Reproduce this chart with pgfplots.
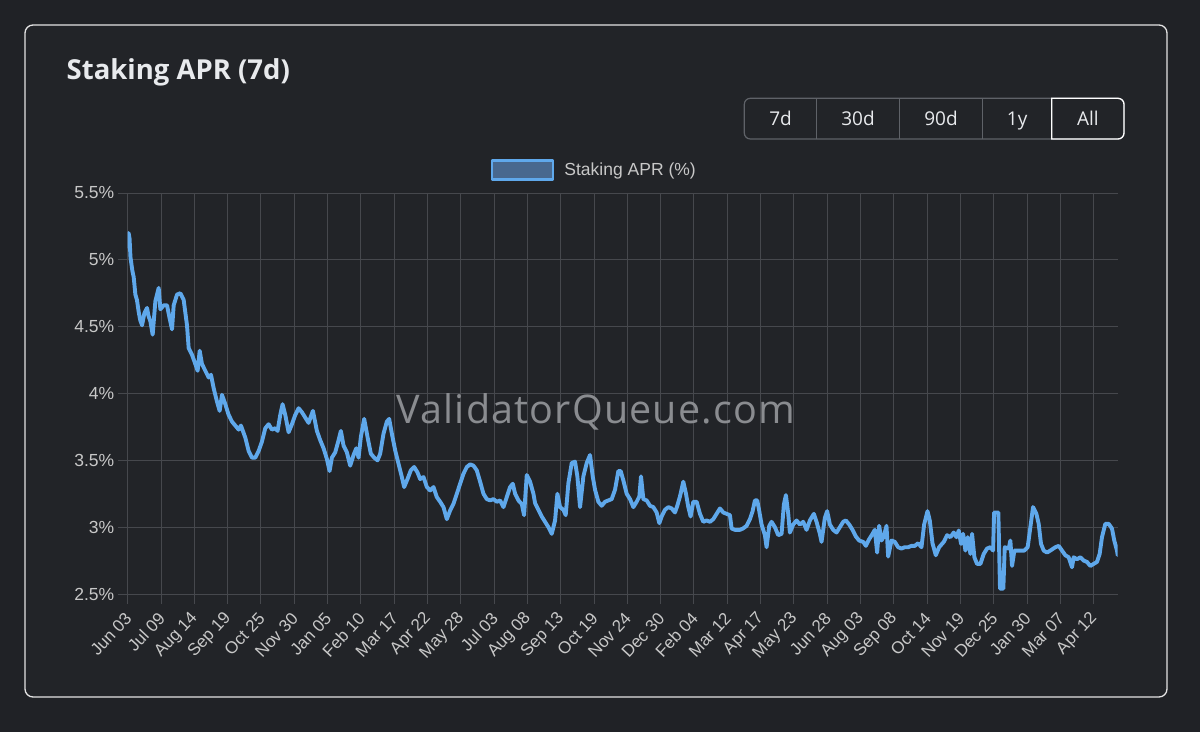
\documentclass[border=0pt]{standalone}
\usepackage{pgfplots}
\usepackage{pgfplotstable}
\pgfplotsset{compat=1.18}
\usepackage{fontspec}
\setmainfont{Liberation Sans}
\newfontfamily\titlefont{Open Sans}
\newfontfamily\wmfont[LetterSpace=3]{Open Sans}
\definecolor{outerbg}{RGB}{32,34,38}
\definecolor{cardbg}{RGB}{34,36,40}
\definecolor{cardborder}{RGB}{228,228,228}
\definecolor{gridc}{RGB}{70,72,77}
\definecolor{tickc}{RGB}{200,200,200}
\definecolor{lineblue}{RGB}{95,168,235}
\definecolor{legfill}{RGB}{72,104,142}
\definecolor{btnborder}{RGB}{95,98,104}
\definecolor{titlec}{RGB}{232,234,237}
\definecolor{wmc}{RGB}{138,140,144}

\pgfplotstableread{
day apr
0 5.10
1 5.20
2 5.16
3 5.02
5 4.92
6.5 4.87
8.3 4.74
10 4.70
11.9 4.61
13.5 4.55
15.5 4.51
18 4.60
20.9 4.64
22.5 4.58
24.5 4.54
27 4.44
29.9 4.69
33.5 4.79
35.3 4.63
38.9 4.66
42.5 4.66
45.4 4.56
47.9 4.48
49.7 4.66
53.3 4.74
56.9 4.75
60.5 4.70
64.1 4.51
65.9 4.34
69.5 4.29
73.1 4.22
75.6 4.17
77.8 4.32
80.3 4.22
83.9 4.17
87.5 4.12
90 4.14
92.9 4.04
96.5 3.94
99.4 3.87
101.9 3.99
105.5 3.92
109.1 3.84
112.7 3.79
116.3 3.76
119.9 3.73
122.4 3.76
127.1 3.67
130.7 3.57
134.3 3.52
137.9 3.52
141.5 3.57
145.1 3.64
148.7 3.74
152.3 3.77
155.9 3.73
159.5 3.74
162 3.72
164.9 3.84
167.4 3.92
170.3 3.84
173.9 3.71
177.5 3.77
181.1 3.84
184.7 3.89
188.3 3.86
191.9 3.82
195.5 3.78
200.2 3.87
204.5 3.72
208.1 3.65
211.7 3.59
215.3 3.51
218.2 3.42
220.7 3.52
224.3 3.56
227.9 3.65
230.4 3.72
233.3 3.61
236.9 3.56
240.5 3.46
244.1 3.54
247 3.59
249.5 3.52
252 3.675
255.6 3.81
259.2 3.675
262.8 3.55
266.4 3.52
270 3.50
272.9 3.55
276.5 3.70
280.1 3.79
282.6 3.81
285.5 3.70
289.1 3.575
292.7 3.475
296.3 3.375
298.8 3.30
302.4 3.36
306 3.425
309.6 3.45
313.2 3.41
316.1 3.36
319.7 3.375
323.3 3.30
326.9 3.275
330.5 3.30
334.1 3.225
337.7 3.19
341.3 3.15
344.9 3.06
348.5 3.125
352.1 3.175
355.7 3.25
359.3 3.325
362.9 3.40
366.5 3.45
370.1 3.47
373.7 3.46
377.3 3.425
380.9 3.34
384.5 3.25
388.1 3.21
391.7 3.20
395.3 3.21
398.9 3.19
402.5 3.20
406.1 3.15
409.7 3.225
413.3 3.30
416.2 3.325
418.7 3.25
422.3 3.20
425.9 3.175
428.4 3.09
431.3 3.39
434.9 3.34
438.5 3.25
440.3 3.18
443.9 3.13
447.5 3.08
451.1 3.04
454.7 3.00
458.3 2.95
461.9 3.05
464.4 3.25
467.3 3.15
470.9 3.13
473.4 3.09
476.3 3.33
479.9 3.48
483.5 3.49
486 3.38
488.9 3.15
492.5 3.38
496.1 3.48
499.7 3.54
502.6 3.38
505.1 3.28
508.7 3.19
512.3 3.16
515.9 3.19
519.5 3.20
523.1 3.21
526.7 3.28
530.3 3.42
532.8 3.42
535.7 3.35
539.3 3.25
542.9 3.21
546.5 3.15
550.1 3.19
553 3.23
554.8 3.38
557.3 3.21
560.9 3.20
564.5 3.16
568.1 3.15
571.7 3.11
574.6 3.03
577.1 3.08
580.7 3.13
584.3 3.15
587.9 3.14
591.5 3.11
594 3.16
596.9 3.23
600.5 3.34
603.4 3.25
605.9 3.15
608.4 3.08
611.3 3.19
614.9 3.19
618.5 3.10
622.1 3.04
625.7 3.05
629.3 3.04
632.9 3.06
636.5 3.10
640.1 3.14
643.7 3.11
647.3 3.10
650.9 3.09
652.7 2.99
656.3 2.98
661.7 2.98
665 2.99
668.9 3.01
672.5 3.06
675.4 3.12
677.9 3.20
680.4 3.20
682.6 3.12
685.1 3.02
688.7 2.94
690.5 2.85
693.4 3.01
695.9 3.04
699.5 3.00
703.1 2.94
706.7 2.95
709.2 3.17
711.4 3.24
713.9 3.10
715.7 2.96
719.3 3.02
722.9 3.05
726.5 3.02
730.1 3.04
733.7 2.98
737.3 3.05
741.6 3.10
744.5 3.04
748.1 2.95
749.9 2.89
753.5 3.07
756 3.12
758.9 3.02
762.5 2.98
766.1 2.96
769.7 3.00
773.3 3.04
776.2 3.05
779.8 3.02
783.4 2.98
787 2.93
790.6 2.90
794.9 2.89
797.8 2.86
801.4 2.91
805 2.95
807.5 2.98
810 2.81
812.2 3.01
814.7 2.90
817.2 2.93
820.1 3.01
821.9 2.78
825.5 2.90
829.1 2.89
832.7 2.85
836.3 2.84
839.9 2.85
843.5 2.85
847.1 2.86
850.7 2.86
854.3 2.88
857.9 2.85
860.8 3.02
864.4 3.12
866.9 3.05
869.8 2.88
873.4 2.79
877 2.85
882 2.89
885.6 2.94
889.2 2.925
892.8 2.96
895.7 2.925
898.2 2.975
900.7 2.875
902.9 2.95
905.4 2.825
907.9 2.925
910.8 2.80
912.6 2.95
915.1 2.775
918 2.725
921.6 2.725
925.2 2.80
928.8 2.84
932.4 2.85
935.3 2.825
936.4 3.11
941 3.11
941.8 2.85
942.8 2.54
946.4 2.54
947.9 2.85
952.2 2.84
954 2.90
955.8 2.71
958.3 2.825
961.9 2.825
965.5 2.825
969.1 2.825
972.7 2.85
975.6 3.00
978.5 3.15
982.1 3.10
984.6 3.025
987.1 2.875
990 2.825
993.6 2.81
997.2 2.825
1002.6 2.85
1006.2 2.86
1009.8 2.825
1013.4 2.79
1017 2.775
1020.6 2.70
1022.4 2.775
1026 2.76
1029.6 2.775
1033.2 2.75
1036.8 2.74
1040.4 2.71
1044 2.725
1047.6 2.74
1050.5 2.80
1053 2.925
1056.6 3.025
1060.2 3.025
1063.8 2.99
1066.3 2.90
1069.2 2.825
1070 2.79
}\aprdata

\begin{document}
\begin{tikzpicture}
\begin{scope}[x=1pt,y=1pt]
\fill[outerbg] (0,0) rectangle (1200,732);
\filldraw[fill=cardbg, draw=cardborder, line width=1.3pt, rounded corners=8pt] (25,35) rectangle (1167,707);
\node[anchor=base west, font=\titlefont\bfseries\fontsize{27.5}{32}\selectfont, text=titlec, inner sep=0pt] at (66.5,652) {Staking APR (7d)};
% button group
\draw[btnborder, line width=1.2pt, rounded corners=6pt] (744.3,593) rectangle (1124,633.7);
\draw[btnborder, line width=1.2pt] (816.7,593) -- (816.7,633.7);
\draw[btnborder, line width=1.2pt] (899.3,593) -- (899.3,633.7);
\draw[btnborder, line width=1.2pt] (982.7,593) -- (982.7,633.7);
\draw[white, line width=1.3pt] (1051.7,633.7) -- (1051.7,593) [rounded corners=6pt] -- (1124,593) -- (1124,633.7) [sharp corners] -- cycle;
\foreach \xx/\tt in {780.5/7d, 858/30d, 941/90d, 1017.2/1y, 1087.9/All}
  \node[font=\titlefont\fontsize{19}{22}\selectfont, text=titlec, anchor=base] at (\xx,606.5) {\tt};
\end{scope}
\begin{axis}[
  at={(127.7pt,138pt)}, anchor=south west,
  scale only axis, width=990pt, height=401pt,
  xmin=0, xmax=1070, ymin=2.5, ymax=5.5,
  axis line style={draw=none},
  grid=major,
  major grid style={gridc, line width=1pt},
  tick style={gridc, line width=1pt},
  tick align=outside,
  major tick length=10pt,
  xtick pos=bottom, ytick pos=left,
  xtick={0,36,...,1044},
  xticklabels={Jun 03,Jul 09,Aug 14,Sep 19,Oct 25,Nov 30,Jan 05,Feb 10,Mar 17,Apr 22,May 28,Jul 03,Aug 08,Sep 13,Oct 19,Nov 24,Dec 30,Feb 04,Mar 12,Apr 17,May 23,Jun 28,Aug 03,Sep 08,Oct 14,Nov 19,Dec 25,Jan 30,Mar 07,Apr 12},
  xticklabel style={yshift=-9pt, xshift=3pt, rotate=47, anchor=east, font=\fontsize{17}{20}\selectfont, text=tickc},
  ytick={2.5,3,3.5,4,4.5,5,5.5},
  yticklabels={2.5\%,3\%,3.5\%,4\%,4.5\%,5\%,5.5\%},
  yticklabel style={font=\fontsize{17.5}{20}\selectfont, text=tickc},
  legend style={at={(0.4712,1)}, anchor=center, yshift=23pt, draw=none, fill=none, text=tickc, font=\fontsize{17.5}{20}\selectfont, inner sep=0pt},
  legend image code/.code={\draw[fill=legfill, draw=lineblue, line width=2.8pt] (0pt,-9.3pt) rectangle (61pt,9.3pt);},
]
\addplot[lineblue, line width=3.9pt, line join=round, line cap=round] table[x=day,y=apr]{\aprdata};
\addlegendentry{\hspace{8pt}Staking APR (\%)}
\end{axis}
\node[font=\wmfont\fontsize{39.5}{46}\selectfont, text=wmc] at (596pt,320pt) {ValidatorQueue.com};
\end{tikzpicture}
\end{document}
